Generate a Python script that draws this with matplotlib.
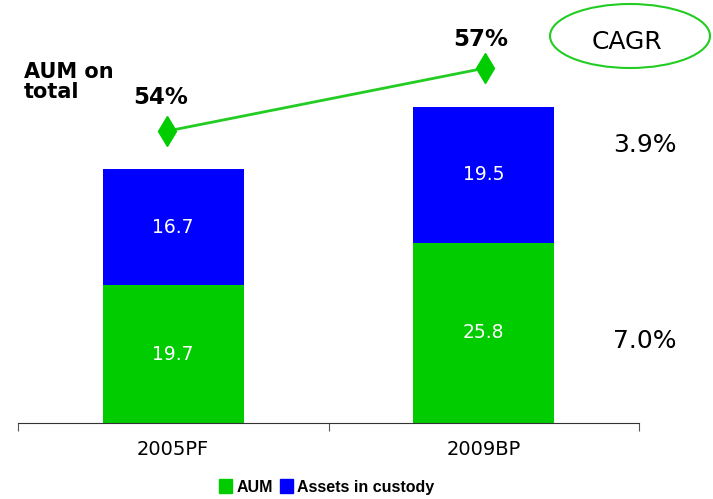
import matplotlib.pyplot as plt
from matplotlib.patches import Ellipse, Patch

categories = ['2005PF', '2009BP']
aum = [19.7, 25.8]
custody = [16.7, 19.5]
aum_share = [54, 57]
cagr_custody = '3.9%'
cagr_aum = '7.0%'

green = '#00CC00'
blue = '#0000FF'

fig = plt.figure(figsize=(7.13, 4.99), dpi=100)
ax = fig.add_axes([18 / 713, 76 / 499, 621 / 713, 403 / 499])

x = [0, 1]
ax.bar(x, aum, width=0.455, color=green)
ax.bar(x, custody, width=0.455, bottom=aum, color=blue)

for i in x:
    ax.text(i, aum[i] / 2, f'{aum[i]:.1f}', ha='center', va='center',
            color='white', fontsize=13.5)
    ax.text(i, aum[i] + custody[i] / 2, f'{custody[i]:.1f}', ha='center',
            va='center', color='white', fontsize=13.5)

ax.set_xlim(-0.5, 1.5)
ax.set_ylim(0, 57.7)
ax.set_xticks([-0.5, 0.5, 1.5])
ax.set_xticklabels([])
ax.set_xticks(x, minor=True)
ax.set_xticklabels(categories, minor=True, fontsize=14)
ax.tick_params(axis='x', which='major', length=6, color='#555555')
ax.tick_params(axis='x', which='minor', length=0, pad=12)
ax.set_yticks([])
for s in ['left', 'right', 'top']:
    ax.spines[s].set_visible(False)
ax.spines['bottom'].set_color('#333333')

# share of AUM on total, on its own scale
ax2 = ax.twinx()
ax2.plot([-0.02, 1.005], aum_share, color='#22CC22', lw=2,
         marker='d', markersize=15, markerfacecolor=green, markeredgecolor=green)
ax2.set_ylim(40.1, 59.29)
ax2.axis('off')
ax2.text(-0.04, aum_share[0] + 1.6, f'{aum_share[0]}%', ha='center',
         va='center', fontsize=16.5, fontweight='bold')
ax2.text(0.99, aum_share[1] + 1.35, f'{aum_share[1]}%', ha='center',
         va='center', fontsize=16.5, fontweight='bold')

fig.text(24 / 713, 1 - 82 / 499, 'AUM on\ntotal', ha='left', va='center',
         fontsize=15, fontweight='bold', linespacing=1.05)

fig.text(645 / 713, 1 - 145 / 499, cagr_custody, ha='center', va='center',
         fontsize=18)
fig.text(645 / 713, 1 - 341 / 499, cagr_aum, ha='center', va='center',
         fontsize=18)

fig.patches.append(Ellipse((630 / 713, 1 - 36 / 499), 160 / 713, 64 / 499,
                           transform=fig.transFigure, fill=False,
                           edgecolor='#22CC22', lw=1.5))
fig.text(627 / 713, 1 - 42 / 499, 'CAGR', ha='center', va='center',
         fontsize=18)

handles = [Patch(color=green, label='AUM'),
           Patch(color=blue, label='Assets in custody')]
fig.legend(handles=handles, loc='center', bbox_to_anchor=(327 / 713, 1 - 487 / 499),
           ncol=2, frameon=False, handlelength=0.8, handleheight=1.0,
           handletextpad=0.3, columnspacing=0.4,
           prop={'family': 'Liberation Sans', 'weight': 'bold', 'size': 11.5})

fig.savefig('out.png', dpi=100)
